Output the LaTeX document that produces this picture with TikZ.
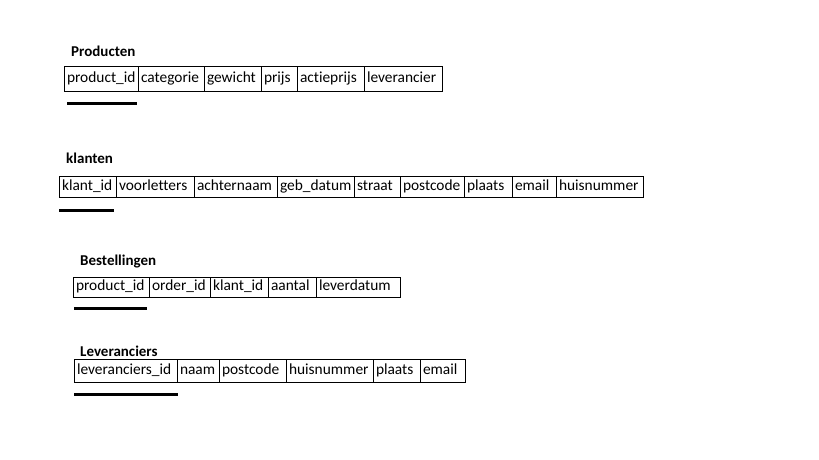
\documentclass[tikz,border=0pt]{standalone}
\usepackage{fontspec}
\setmainfont{Carlito}[Ligatures=NoCommon]
\begin{document}
\begin{tikzpicture}[x=1pt,y=-1pt,
  cell/.style={draw=black, line width=1pt, outer sep=0pt, inner xsep=3pt, inner ysep=0pt,
    text height=11pt, text depth=3.5pt,
    align=left, anchor=west, font=\fontsize{15.4}{17}\selectfont},
  tabletitle/.style={anchor=base west, inner sep=0pt, font=\fontsize{15}{17}\selectfont\bfseries},
  keyline/.style={line width=3pt}]
\useasboundingbox (0,0) rectangle (819,460);

% Producten
\node[tabletitle] (tP) at (71,57) {Producten};
\coordinate (P0) at (64,79);
\foreach \txt/\w [count=\i] in {product\_id/74, categorie/66, gewicht/57, prijs/36, actieprijs/67, leverancier/78}{
  \pgfmathtruncatemacro{\j}{\i-1}
  \node[cell, text width=\w pt-6pt, minimum height=25pt] (P\i) at (P\j.east) {\txt};
}
\coordinate (kP1) at (67,103);
\coordinate (kP2) at (137,103);
\draw[keyline] (kP1) -- (kP2);

% klanten
\node[tabletitle] (tK) at (66,163) {klanten};
\coordinate (K0) at (59,186.5);
\foreach \txt/\w [count=\i] in {klant\_id/57, voorletters/78, achternaam/83, geb\_datum/77, straat/46, postcode/64, plaats/48, email/44, huisnummer/87}{
  \pgfmathtruncatemacro{\j}{\i-1}
  \node[cell, text width=\w pt-6pt, minimum height=21pt] (K\i) at (K\j.east) {\txt};
}
\coordinate (kK1) at (59,210);
\coordinate (kK2) at (114,210);
\draw[keyline] (kK1) -- (kK2);

% Bestellingen
\node[tabletitle] (tB) at (80,265) {Bestellingen};
\coordinate (B0) at (73,287);
\foreach \txt/\w [count=\i] in {product\_id/76, order\_id/61, klant\_id/58, aantal/48, leverdatum/84}{
  \pgfmathtruncatemacro{\j}{\i-1}
  \node[cell, text width=\w pt-6pt, minimum height=20pt] (B\i) at (B\j.east) {\txt};
}
\coordinate (kB1) at (74,308);
\coordinate (kB2) at (147,308);
\draw[keyline] (kB1) -- (kB2);

% Leveranciers
\node[tabletitle] (tL) at (80,356) {Leveranciers};
\coordinate (L0) at (74,370.5);
\foreach \txt/\w [count=\i] in {leveranciers\_id/103, naam/42, postcode/67, huisnummer/87, plaats/47, email/45}{
  \pgfmathtruncatemacro{\j}{\i-1}
  \node[cell, text width=\w pt-6pt, minimum height=23pt] (L\i) at (L\j.east) {\txt};
}
\coordinate (kL1) at (74,394);
\coordinate (kL2) at (178,394);
\draw[keyline] (kL1) -- (kL2);
\end{tikzpicture}
\end{document}
